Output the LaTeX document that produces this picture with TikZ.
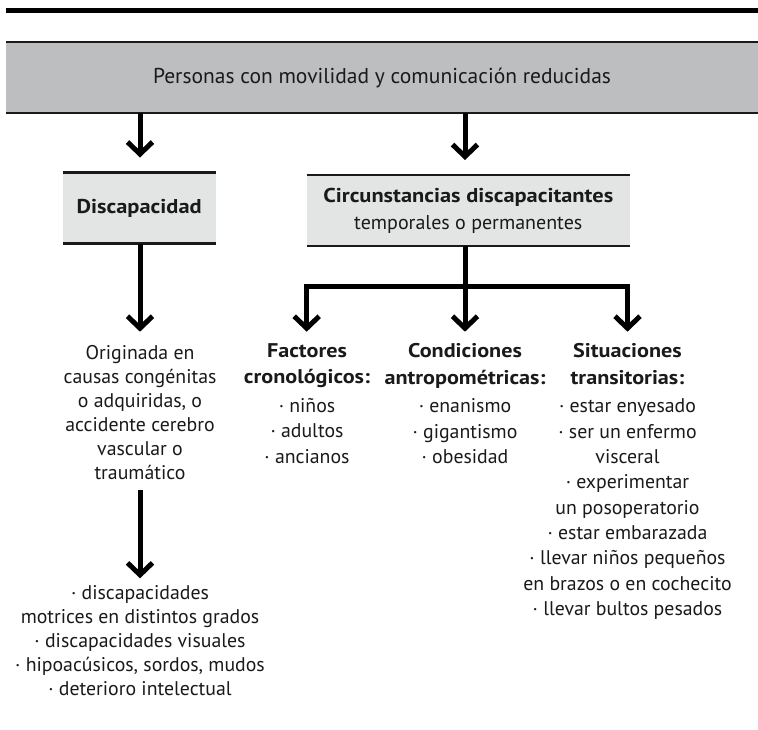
\documentclass[tikz,border=0pt]{standalone}
\usepackage{fontspec}
\setmainfont{PT Sans}[BoldFeatures={FakeStretch=1.12}]
\usetikzlibrary{arrows.meta}
\definecolor{bandgray}{HTML}{BDBEC0}
\definecolor{boxgray}{HTML}{E3E4E4}
\definecolor{ink}{HTML}{1A1A1A}
\begin{document}
\begin{tikzpicture}[x=1pt,y=-1pt,
  conn/.style={line width=5pt, line join=miter, -{Straight Barb[length=12pt,width=25pt]}},
  band/.style={fill=bandgray, minimum width=752pt, minimum height=71pt, inner sep=0pt, outer sep=0pt, text=ink, font=\fontsize{21.5}{24}\selectfont},
  lbox/.style={fill=boxgray, minimum height=71pt, inner sep=0pt, outer sep=0pt, align=center, text=ink},
  rule/.style={line width=2.2pt, draw=ink},
  txt/.style={align=center, inner sep=0pt, text=ink, anchor=north},
]
\useasboundingbox (0,0) rectangle (758,729);
\fill[white] (0,0) rectangle (758,729);
% top rule
\draw[line width=5pt] (6,10.5) -- (758,10.5);
% main band
\node[band] (top) at (382,77.5) {Personas con movilidad y comunicación reducidas};
\draw[rule] (top.north west) -- (top.north east);
\draw[rule] (top.south west) -- (top.south east);
% second level boxes
\node[lbox, minimum width=153pt, font=\fontsize{20}{24}\selectfont\bfseries] (disc) at (139.2,208) {Discapacidad};
\draw[rule] (disc.north west) -- (disc.north east);
\draw[rule] (disc.south west) -- (disc.south east);
\node[lbox, minimum width=323.3pt, font=\fontsize{20}{27}\selectfont] (circ) at (468.3,210.5) {\textbf{Circunstancias discapacitantes}\\temporales o permanentes};
\draw[rule] (circ.north west) -- (circ.north east);
\draw[rule] (circ.south west) -- (circ.south east);
% arrows from band
\draw[conn, shorten >=15pt] (top.south -| 140,0) -- (disc.north -| 140,0);
\draw[conn, shorten >=15pt] (top.south -| 465,0) -- (circ.north -| 465,0);
% left column
\coordinate (t1) at (140,331.7);
\draw[conn] (disc.south -| t1) -- (t1);
\node[txt, font=\fontsize{19.8}{24}\selectfont] (orig) at (140,345) {Originada en\\causas congénitas\\o adquiridas, o\\accidente cerebro\\vascular o\\traumático};
\coordinate (t2) at (140,578.3);
\draw[conn] (orig.south |- 0,490) -- (t2);
\node[txt, font=\fontsize{19.8}{24}\selectfont] (tipos) at (140,585) {· discapacidades\\motrices en distintos grados\\· discapacidades visuales\\· hipoacúsicos, sordos, mudos\\· deterioro intelectual};
% right branches
\coordinate (bar) at (465,286.7);
\coordinate (f1) at (306.7,331.7);
\coordinate (f2) at (465,331.7);
\coordinate (f3) at (627.5,331.7);
\draw[conn] (circ.south -| f2) -- (f2);
\draw[conn] (bar) -| (f1);
\draw[conn] (bar) -| (f3);
\node[txt, font=\fontsize{19.8}{25.3}\selectfont] (crono) at (307,343) {\textbf{Factores}\\[1.5pt]\textbf{cronológicos:}\\[3.5pt]· niños\\· adultos\\· ancianos};
\node[txt, font=\fontsize{19.8}{25.3}\selectfont] (antro) at (465,343) {\textbf{Condiciones}\\[1.5pt]\textbf{antropométricas:}\\[3.5pt]· enanismo\\· gigantismo\\· obesidad};
\node[txt, font=\fontsize{19.8}{25.3}\selectfont] (trans) at (627.5,343) {\textbf{Situaciones}\\[1.5pt]\textbf{transitorias:}\\[3.5pt]· estar enyesado\\· ser un enfermo\\visceral\\· experimentar\\un posoperatorio\\· estar embarazada\\· llevar niños pequeños\\en brazos o en cochecito\\· llevar bultos pesados};
\end{tikzpicture}
\end{document}
